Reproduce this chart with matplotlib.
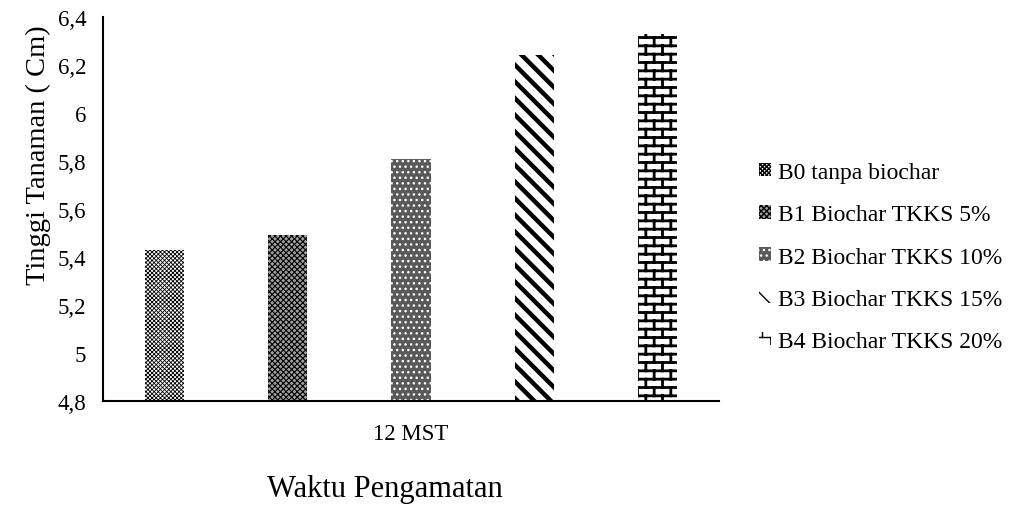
import warnings
import numpy as np
import matplotlib
matplotlib.use("Agg")
import matplotlib.pyplot as plt
import matplotlib.hatch as mhatch
from matplotlib.path import Path

warnings.filterwarnings("ignore", message="hatch must consist")

treatments = [
    "B0 tanpa biochar",
    "B1 Biochar TKKS 5%",
    "B2 Biochar TKKS 10%",
    "B3 Biochar TKKS 15%",
    "B4 Biochar TKKS 20%",
]
heights = [5.43, 5.49, 5.81, 6.24, 6.33]
category = "12 MST"
y_ticks = [4.8, 5.0, 5.2, 5.4, 5.6, 5.8, 6.0, 6.2, 6.4]


class BrickHatch(mhatch.HatchPatternBase):
    """Offset brick wall, selected with the 'b' hatch character."""

    def __init__(self, hatch, density):
        self.num_rows = int(hatch.count("b") * density)
        self.num_cols = self.num_rows // 2
        self.num_vertices = (self.num_rows + (self.num_rows + 1) * self.num_cols) * 2

    def set_vertices_and_codes(self, vertices, codes):
        rows, cols = self.num_rows, self.num_cols
        k = 0
        for i in range(rows):
            y = (i + 0.5) / rows
            vertices[k] = (0.0, y)
            vertices[k + 1] = (1.0, y)
            k += 2
        for i in range(-1, rows):
            y0 = (i + 0.5) / rows
            shift = 0.5 * (i % 2)
            for j in range(cols):
                x = (j + shift + 0.25) / cols
                vertices[k] = (x, y0)
                vertices[k + 1] = (x, y0 + 1.0 / rows)
                k += 2
        codes[0::2] = Path.MOVETO
        codes[1::2] = Path.LINETO


mhatch._hatch_types.append(BrickHatch)

plt.rcParams["font.family"] = ["Liberation Serif", "DejaVu Serif"]

# face colour, hatch colour, hatch pattern, hatch line width
styles = [
    ("white", "black", "xxxxxxxx", 0.6),
    ("#a0a0a0", "black", "XXXXXX", 0.8),
    ("#595959", "white", "...", 1.0),
    ("white", "black", "\\\\", 3.2),
    ("white", "black", "bb", 2.0),
]

fig = plt.figure(figsize=(10.13, 5.06), dpi=100)
ax = fig.add_axes([103 / 1013, 1 - 402 / 506, 616 / 1013, 384 / 506])

step = 0.2
width = 0.0635
offsets = (np.arange(len(heights)) - (len(heights) - 1) / 2) * step
bars = []
for off, h, lab, (fc, hc, hp, hlw) in zip(offsets, heights, treatments, styles):
    with plt.rc_context({"hatch.linewidth": hlw}):
        b = ax.bar(off, h, width=width, facecolor=fc, edgecolor=hc,
                   hatch=hp, linewidth=0, label=lab)
    bars.append(b)

ax.set_xlim(-0.5, 0.5)
ax.set_ylim(y_ticks[0], y_ticks[-1])
ax.set_xticks([0])
ax.set_xticklabels([category])
ax.set_yticks(y_ticks)
ax.set_yticklabels([f"{v:g}".replace(".", ",") for v in y_ticks])
ax.tick_params(axis="both", length=0, labelsize=16.5)
ax.tick_params(axis="y", pad=12)
ax.tick_params(axis="x", pad=16)

for side in ["top", "right"]:
    ax.spines[side].set_visible(False)
for side in ["left", "bottom"]:
    ax.spines[side].set_linewidth(1.5)

ax.set_ylabel("Tinggi Tanaman ( Cm)", fontsize=20.5)
ax.yaxis.set_label_coords(-0.085, 0.643)
ax.set_xlabel("Waktu Pengamatan", fontsize=22)
ax.xaxis.set_label_coords(0.458, -0.19)

fig.legend(handles=bars, labels=treatments, loc="center left",
           bbox_to_anchor=(759 / 1013, 1 - 258 / 506), frameon=False,
           fontsize=17, borderpad=0, borderaxespad=0,
           handlelength=0.5, handleheight=0.5, handletextpad=0.3,
           labelspacing=0.9)

fig.savefig("out.png", dpi=100)
